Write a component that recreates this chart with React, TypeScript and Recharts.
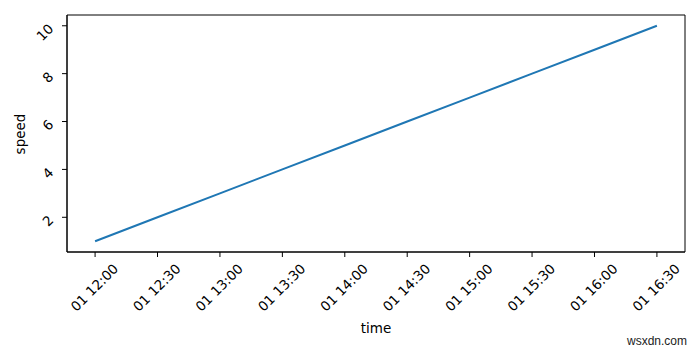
import React from "react";
import { LineChart, Line, XAxis, YAxis, ReferenceArea } from "recharts";

const timeLabels = ["01 12:00", "01 12:30", "01 13:00", "01 13:30", "01 14:00", "01 14:30", "01 15:00", "01 15:30", "01 16:00", "01 16:30"];
const minutes = [0, 30, 60, 90, 120, 150, 180, 210, 240, 270];
const speed = [1, 2, 3, 4, 5, 6, 7, 8, 9, 10];
const yTicks = [2, 4, 6, 8, 10];

const data = minutes.map((m, i) => ({ t: m, speed: speed[i] }));
const labelFor = (m: number) => timeLabels[minutes.indexOf(m)] ?? "";

const FONT = "DejaVu Sans";
const FS = 13.5;

const XTick = (props: any) => {
  const { x, y, payload } = props;
  return (
    <text
      transform={`translate(${x - 0.8},${y + 28.5}) rotate(-45)`}
      textAnchor="middle"
      dy="0.36em"
      fontFamily={FONT}
      fontSize={FS}
      fill="#000"
    >
      {labelFor(payload.value)}
    </text>
  );
};

const YTick = (props: any) => {
  const { x, y, payload } = props;
  return (
    <text
      transform={`translate(${x - 9},${y + 0.5}) rotate(-45)`}
      textAnchor="end"
      dy="0.36em"
      fontFamily={FONT}
      fontSize={FS}
      fill="#000"
    >
      {payload.value}
    </text>
  );
};

export default function App() {
  return (
    <div style={{ position: "absolute", left: 0, top: 0, width: 700, height: 350, background: "#fff" }}>
      <LineChart width={700} height={350} data={data} margin={{ top: 15, right: 15, bottom: 0, left: 0 }}>
        <XAxis
          dataKey="t"
          type="number"
          domain={[-13.5, 283.5]}
          ticks={minutes}
          interval={0}
          height={98}
          tickSize={5}
          tick={<XTick />}
          axisLine={{ stroke: "#000", strokeWidth: 1 }}
          tickLine={{ stroke: "#000", strokeWidth: 1 }}
          allowDataOverflow
        />
        <YAxis
          type="number"
          domain={[0.55, 10.45]}
          ticks={yTicks}
          interval={0}
          width={67}
          tickSize={5}
          tick={<YTick />}
          axisLine={{ stroke: "#000", strokeWidth: 1 }}
          tickLine={{ stroke: "#000", strokeWidth: 1 }}
          allowDataOverflow
        />
        <ReferenceArea
          x1={-13.5}
          x2={283.5}
          y1={0.55}
          y2={10.45}
          fill="none"
          fillOpacity={0}
          stroke="#000"
          strokeWidth={1}
          ifOverflow="visible"
        />
        <Line
          type="linear"
          dataKey="speed"
          stroke="#1f77b4"
          strokeWidth={2}
          dot={false}
          isAnimationActive={false}
        />
      </LineChart>
      <div style={{ position: "absolute", left: 0, top: 0, pointerEvents: "none" }}>
        <svg width={700} height={350}>
          <text x={376} y={333} textAnchor="middle" fontFamily={FONT} fontSize={FS} fill="#000">time</text>
          <text transform="translate(25,134) rotate(-90)" textAnchor="middle" fontFamily={FONT} fontSize={FS} fill="#000">speed</text>
          <text x={627} y={345} fontFamily="Liberation Sans" fontSize={12} fill="#222">wsxdn.com</text>
        </svg>
      </div>
    </div>
  );
}
